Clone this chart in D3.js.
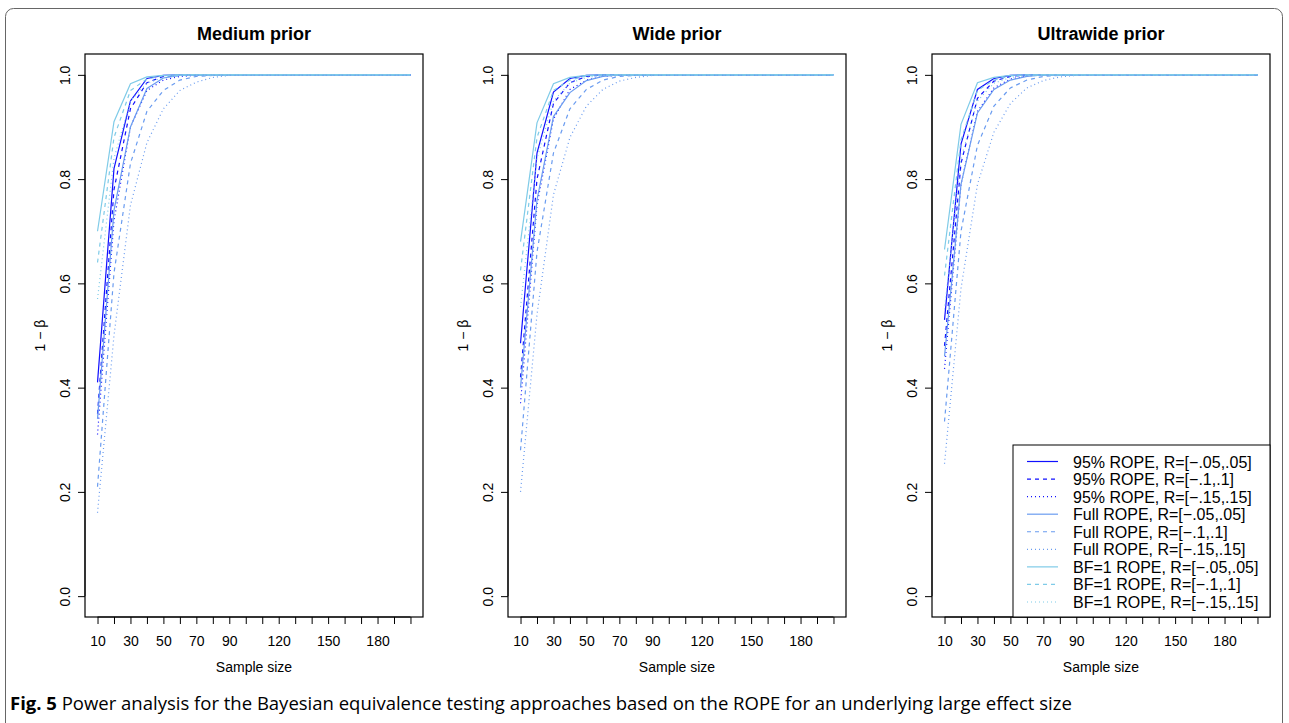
<!DOCTYPE html>
<html>
<head>
<meta charset="utf-8">
<script src="https://cdn.jsdelivr.net/npm/d3@7.9.0/dist/d3.min.js"></script>
<style>
  html, body { margin: 0; padding: 0; background: #fff; }
  svg { display: block; }
  .axis text { font-family: "Liberation Sans", Arial, sans-serif; font-size: 14px; fill: #000; }
</style>
</head>
<body>
<svg id="fig" width="1289" height="723"></svg>
<script>
// Data
const sampleSizes = [10, 20, 30, 40, 50, 60, 70, 80, 90, 100, 110, 120, 130, 140, 150, 160, 170, 180, 190, 200];
const xTickLabels = [10, 30, 50, 70, 90, 120, 150, 180];
const yTicks = [0, 0.2, 0.4, 0.6, 0.8, 1.0];
const panelTitles = ['Medium prior', 'Wide prior', 'Ultrawide prior'];
const seriesLabels = [
  '95% ROPE, R=[\u2212.05,.05]', '95% ROPE, R=[\u2212.1,.1]', '95% ROPE, R=[\u2212.15,.15]',
  'Full ROPE, R=[\u2212.05,.05]', 'Full ROPE, R=[\u2212.1,.1]', 'Full ROPE, R=[\u2212.15,.15]',
  'BF=1 ROPE, R=[\u2212.05,.05]', 'BF=1 ROPE, R=[\u2212.1,.1]', 'BF=1 ROPE, R=[\u2212.15,.15]'
];

// power (1 - beta), one row per series, same order as seriesLabels
const mediumPrior = [
  [0.41, 0.82, 0.95, 0.993, 0.999, 1, 1, 1, 1, 1, 1, 1, 1, 1, 1, 1, 1, 1, 1, 1],
  [0.35, 0.78, 0.935, 0.985, 0.997, 0.999, 1, 1, 1, 1, 1, 1, 1, 1, 1, 1, 1, 1, 1, 1],
  [0.31, 0.72, 0.90, 0.97, 0.99, 0.997, 0.999, 1, 1, 1, 1, 1, 1, 1, 1, 1, 1, 1, 1, 1],
  [0.34, 0.74, 0.90, 0.974, 0.994, 0.999, 1, 1, 1, 1, 1, 1, 1, 1, 1, 1, 1, 1, 1, 1],
  [0.21, 0.62, 0.83, 0.93, 0.97, 0.99, 0.997, 0.999, 1, 1, 1, 1, 1, 1, 1, 1, 1, 1, 1, 1],
  [0.16, 0.50, 0.75, 0.87, 0.935, 0.97, 0.986, 0.995, 0.999, 1, 1, 1, 1, 1, 1, 1, 1, 1, 1, 1],
  [0.70, 0.91, 0.983, 0.996, 0.999, 1, 1, 1, 1, 1, 1, 1, 1, 1, 1, 1, 1, 1, 1, 1],
  [0.64, 0.88, 0.97, 0.992, 0.998, 1, 1, 1, 1, 1, 1, 1, 1, 1, 1, 1, 1, 1, 1, 1],
  [0.57, 0.84, 0.95, 0.984, 0.995, 0.999, 1, 1, 1, 1, 1, 1, 1, 1, 1, 1, 1, 1, 1, 1]
];
const widePrior = [
  [0.485, 0.85, 0.967, 0.993, 0.999, 1, 1, 1, 1, 1, 1, 1, 1, 1, 1, 1, 1, 1, 1, 1],
  [0.42, 0.80, 0.945, 0.985, 0.997, 1, 1, 1, 1, 1, 1, 1, 1, 1, 1, 1, 1, 1, 1, 1],
  [0.37, 0.75, 0.915, 0.972, 0.99, 0.997, 0.999, 1, 1, 1, 1, 1, 1, 1, 1, 1, 1, 1, 1, 1],
  [0.40, 0.76, 0.92, 0.966, 0.989, 0.997, 1, 1, 1, 1, 1, 1, 1, 1, 1, 1, 1, 1, 1, 1],
  [0.28, 0.66, 0.85, 0.935, 0.972, 0.99, 0.997, 0.999, 1, 1, 1, 1, 1, 1, 1, 1, 1, 1, 1, 1],
  [0.20, 0.54, 0.77, 0.88, 0.94, 0.972, 0.988, 0.995, 0.999, 1, 1, 1, 1, 1, 1, 1, 1, 1, 1, 1],
  [0.68, 0.908, 0.983, 0.995, 0.999, 1, 1, 1, 1, 1, 1, 1, 1, 1, 1, 1, 1, 1, 1, 1],
  [0.625, 0.88, 0.97, 0.99, 0.998, 1, 1, 1, 1, 1, 1, 1, 1, 1, 1, 1, 1, 1, 1, 1],
  [0.555, 0.84, 0.95, 0.984, 0.995, 0.999, 1, 1, 1, 1, 1, 1, 1, 1, 1, 1, 1, 1, 1, 1]
];
const ultrawidePrior = [
  [0.53, 0.867, 0.972, 0.993, 0.999, 1, 1, 1, 1, 1, 1, 1, 1, 1, 1, 1, 1, 1, 1, 1],
  [0.48, 0.83, 0.955, 0.988, 0.997, 1, 1, 1, 1, 1, 1, 1, 1, 1, 1, 1, 1, 1, 1, 1],
  [0.436, 0.79, 0.93, 0.975, 0.992, 0.998, 1, 1, 1, 1, 1, 1, 1, 1, 1, 1, 1, 1, 1, 1],
  [0.46, 0.79, 0.927, 0.972, 0.99, 0.997, 1, 1, 1, 1, 1, 1, 1, 1, 1, 1, 1, 1, 1, 1],
  [0.335, 0.70, 0.865, 0.94, 0.975, 0.99, 0.997, 0.999, 1, 1, 1, 1, 1, 1, 1, 1, 1, 1, 1, 1],
  [0.254, 0.59, 0.79, 0.89, 0.945, 0.975, 0.989, 0.996, 0.999, 1, 1, 1, 1, 1, 1, 1, 1, 1, 1, 1],
  [0.665, 0.905, 0.985, 0.995, 0.999, 1, 1, 1, 1, 1, 1, 1, 1, 1, 1, 1, 1, 1, 1, 1],
  [0.615, 0.875, 0.97, 0.99, 0.998, 1, 1, 1, 1, 1, 1, 1, 1, 1, 1, 1, 1, 1, 1, 1],
  [0.55, 0.84, 0.95, 0.984, 0.995, 0.999, 1, 1, 1, 1, 1, 1, 1, 1, 1, 1, 1, 1, 1, 1]
];
const panelData = [mediumPrior, widePrior, ultrawidePrior];

// styles: colour by method, dash by ROPE width
const methodColors = ['#1010ff', '#6a9cf0', '#7fcbe8'];
const dashes = [null, '4,4', '1,3'];
const seriesColor = i => methodColors[Math.floor(i / 3)];
const seriesDash = i => dashes[i % 3];

const font = '"Liberation Sans", Arial, sans-serif';
const svg = d3.select('#fig');

// outer figure frame
svg.append('rect')
  .attr('x', 5.5).attr('y', 8.5).attr('width', 1277).attr('height', 760)
  .attr('rx', 8).attr('fill', 'none').attr('stroke', '#666').attr('stroke-width', 1);

// panel geometry
const panelLefts = [85, 508, 932];
const pw = 338, plotTop = 54, plotBottom = 617;

panelData.forEach((rows, p) => {
  const left = panelLefts[p];
  const x = d3.scaleLinear().domain([2.4, 207.6]).range([left, left + pw]);
  const y = d3.scaleLinear().domain([-0.04, 1.04]).range([plotBottom, plotTop]);
  const g = svg.append('g');

  // lines
  const line = d3.line().x((d, i) => x(sampleSizes[i])).y(d => y(d));
  rows.forEach((vals, i) => {
    g.append('path')
      .datum(vals)
      .attr('d', line)
      .attr('fill', 'none')
      .attr('stroke', seriesColor(i))
      .attr('stroke-width', 1.2)
      .attr('stroke-dasharray', seriesDash(i));
  });

  // box
  g.append('rect')
    .attr('x', left).attr('y', plotTop).attr('width', pw).attr('height', plotBottom - plotTop)
    .attr('fill', 'none').attr('stroke', '#000').attr('stroke-width', 1.2);

  // x axis
  const xa = g.append('g').attr('class', 'axis')
    .attr('transform', `translate(0,${plotBottom})`)
    .call(d3.axisBottom(x).tickValues(sampleSizes).tickSize(7).tickPadding(12)
      .tickFormat(d => xTickLabels.includes(d) ? d : ''));
  xa.select('.domain').attr('d', `M${x(10)},0H${x(200)}`).attr('stroke', '#000');

  // y axis
  const ya = g.append('g').attr('class', 'axis')
    .attr('transform', `translate(${left},0)`)
    .call(d3.axisLeft(y).tickValues(yTicks).tickSize(7).tickFormat(d3.format('.1f')));
  ya.select('.domain').attr('d', `M0,${y(0)}V${y(1)}`).attr('stroke', '#000');
  ya.selectAll('text')
    .attr('transform', 'rotate(-90)')
    .attr('x', 0).attr('y', -15).attr('dy', 0)
    .attr('text-anchor', 'middle');

  // titles
  svg.append('text')
    .attr('x', left + pw / 2).attr('y', 40)
    .attr('text-anchor', 'middle')
    .style('font-family', font).style('font-size', '18px').style('font-weight', 'bold')
    .text(panelTitles[p]);
  svg.append('text')
    .attr('x', left + pw / 2).attr('y', 672)
    .attr('text-anchor', 'middle')
    .style('font-family', font).style('font-size', '14px')
    .text('Sample size');
  svg.append('text')
    .attr('transform', `translate(${left - 40},${(plotTop + plotBottom) / 2}) rotate(-90)`)
    .attr('text-anchor', 'middle')
    .style('font-family', font).style('font-size', '14px')
    .text('1 \u2212 \u03b2');
});

// legend in last panel, bottom right
const lx = 1013, ly = 445, lw = 257, lh = 172;
const lg = svg.append('g');
lg.append('rect')
  .attr('x', lx).attr('y', ly).attr('width', lw).attr('height', lh)
  .attr('fill', '#fff').attr('stroke', '#000').attr('stroke-width', 1);
const rowY = d3.scalePoint().domain(d3.range(seriesLabels.length)).range([ly + 16.5, ly + 157]);
seriesLabels.forEach((lab, i) => {
  lg.append('line')
    .attr('x1', lx + 14).attr('x2', lx + 45)
    .attr('y1', rowY(i)).attr('y2', rowY(i))
    .attr('stroke', seriesColor(i)).attr('stroke-width', 1.2)
    .attr('stroke-dasharray', seriesDash(i));
  lg.append('text')
    .attr('x', lx + 60).attr('y', rowY(i) + 6)
    .style('font-family', font).style('font-size', '16px')
    .text(lab);
});

// caption
const cap = svg.append('text')
  .attr('x', 10).attr('y', 710)
  .style('font-family', '"Open Sans", "Noto Sans", sans-serif').style('font-size', '18.5px');
cap.append('tspan').style('font-weight', 'bold').text('Fig. 5');
cap.append('tspan').text(' Power analysis for the Bayesian equivalence testing approaches based on the ROPE for an underlying large effect size');
</script>
</body>
</html>
